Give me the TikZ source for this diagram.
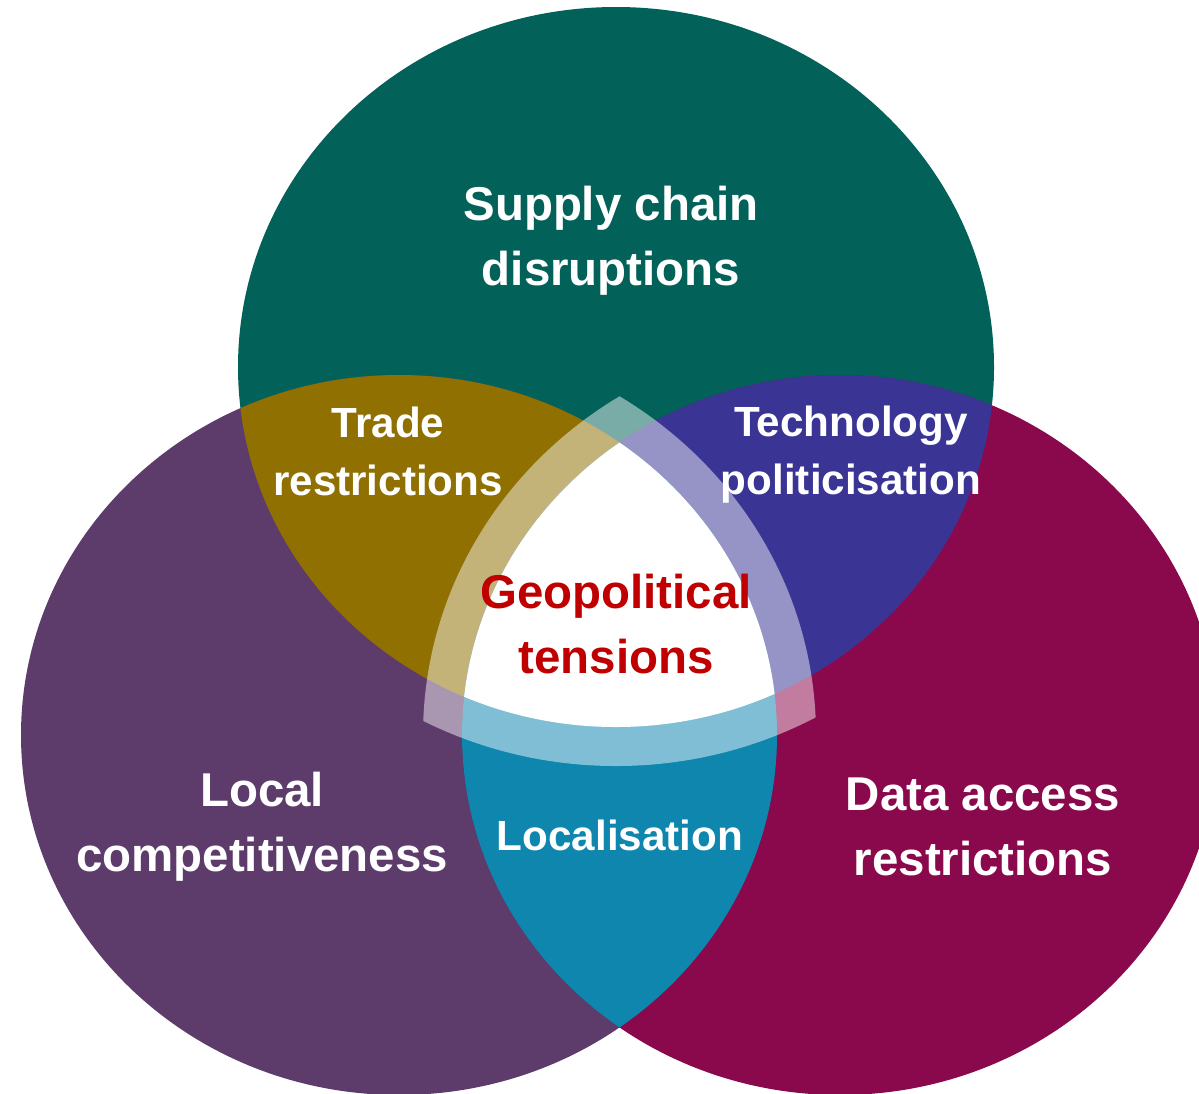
\documentclass[tikz,border=0pt]{standalone}
\usepackage{fontspec}
\setmainfont{Liberation Sans}
\definecolor{cTop}{RGB}{2,98,90}
\definecolor{cLeft}{RGB}{93,60,108}
\definecolor{cRight}{RGB}{138,8,76}
\definecolor{cTL}{RGB}{143,112,0}
\definecolor{cTR}{RGB}{58,53,148}
\definecolor{cLR}{RGB}{14,134,174}
\definecolor{cGeo}{RGB}{192,0,0}
\begin{document}
\begin{tikzpicture}[
  big/.style={font=\fontsize{13.5pt}{18.5pt}\selectfont\bfseries, text=white, align=center, inner sep=0pt},
  small/.style={font=\fontsize{12pt}{16.5pt}\selectfont\bfseries, text=white, align=center, inner sep=0pt},
  venn/.style={x radius=3.78cm, y radius=3.6cm},
  vennbig/.style={x radius=4.17cm, y radius=3.99cm}
]
\useasboundingbox (0,0) rectangle (11.99,10.93);
\clip (0,0) rectangle (11.99,10.93);
\coordinate (T) at (6.16,7.26);
\coordinate (L) at (3.99,3.58);
\coordinate (R) at (8.40,3.58);
% base circles
\fill[cTop] (T) ellipse[venn];
\fill[cLeft] (L) ellipse[venn];
\fill[cRight] (R) ellipse[venn];
% pairwise overlaps
\begin{scope}
  \clip (T) ellipse[venn];
  \fill[cTL] (L) ellipse[venn];
\end{scope}
\begin{scope}
  \clip (T) ellipse[venn];
  \fill[cTR] (R) ellipse[venn];
\end{scope}
\begin{scope}
  \clip (L) ellipse[venn];
  \fill[cLR] (R) ellipse[venn];
\end{scope}
% translucent band
\begin{scope}
  \clip (T) ellipse[vennbig];
  \clip (L) ellipse[vennbig];
  \fill[white, fill opacity=0.47] (R) ellipse[vennbig];
\end{scope}
% centre
\begin{scope}
  \clip (T) ellipse[venn];
  \clip (L) ellipse[venn];
  \fill[white] (R) ellipse[venn];
\end{scope}
% labels
\node[big] (sc) at (6.11,8.52) {Supply chain\\disruptions};
\node[small] (tr) at (3.88,6.42) {Trade\\restrictions};
\node[small] (tp) at (8.51,6.38) {Technology\\politicisation};
\node[big, text=cGeo] (geo) at (6.16,4.69) {Geopolitical\\tensions};
\node[big] (lc) at (2.62,2.66) {Local\\competitiveness};
\node[small] (loc) at (6.20,2.58) {Localisation};
\node[big] (da) at (9.83,2.66) {Data access\\restrictions};
\end{tikzpicture}
\end{document}
